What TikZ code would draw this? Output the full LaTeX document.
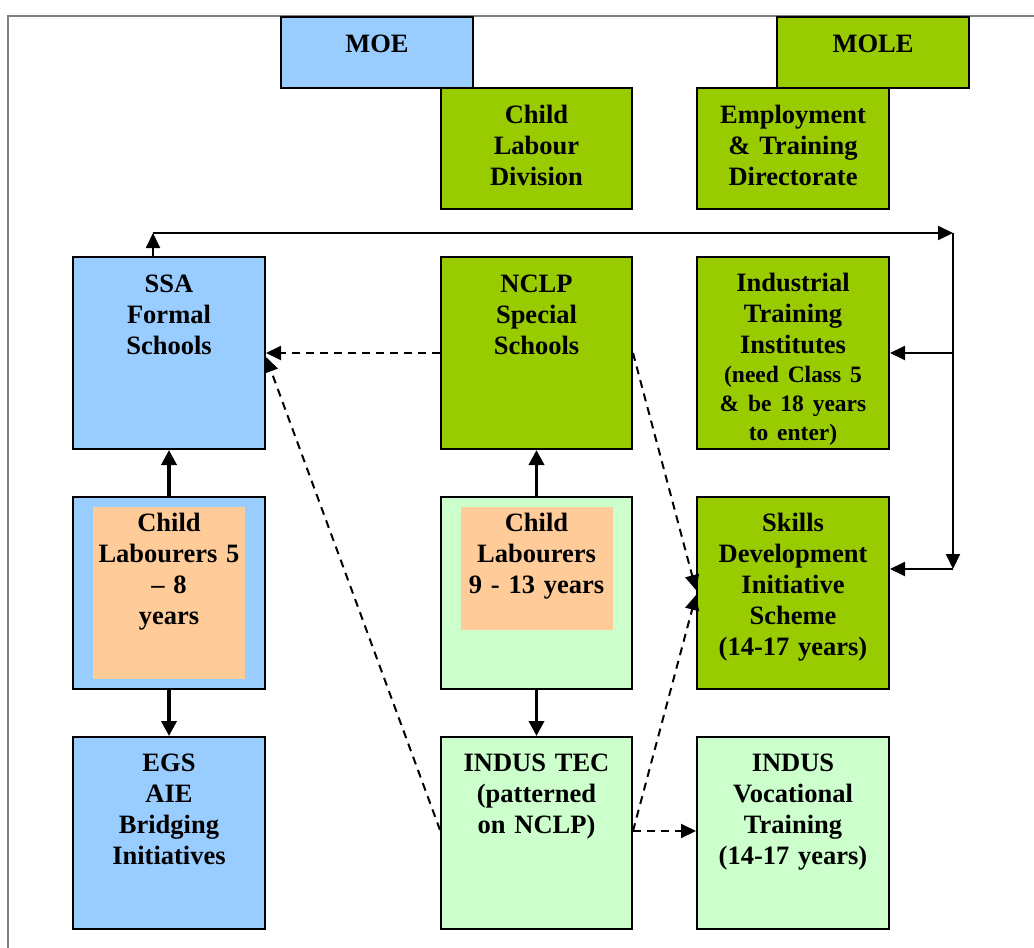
\documentclass[tikz,border=0pt]{standalone}
\usepackage{fontspec}
\setmainfont{Liberation Serif}[WordSpace=0.75]
\usetikzlibrary{arrows.meta,calc}
\definecolor{cblue}{HTML}{99CCFF}
\definecolor{cgreen}{HTML}{99CC00}
\definecolor{clight}{HTML}{CCFFCC}
\definecolor{corange}{HTML}{FFCC99}
\definecolor{cframe}{HTML}{808080}
\newcommand\flstrut{\rule{0pt}{24pt}}
\begin{document}
\begin{tikzpicture}[x=1pt,y=-1pt,
  boxbase/.style={rectangle, draw=black, line width=2pt, inner sep=0pt, minimum width=192pt},
  bluebox/.style={boxbase, fill=cblue},
  greenbox/.style={boxbase, fill=cgreen},
  lightbox/.style={boxbase, fill=clight},
  innerbox/.style={rectangle, fill=corange, inner sep=0pt, minimum width=152pt},
  tx/.style={anchor=north, inner sep=0pt, text width=190pt, align=center,
    font=\fontsize{26.5}{31}\selectfont\bfseries},
  thinarrow/.style={line width=2pt, -{Triangle[length=15pt,width=14pt]}},
  thickarrow/.style={line width=3.5pt, -{Triangle[length=15pt,width=15pt]}},
  dasharrow/.style={line width=2pt, dash pattern=on 8pt off 6pt, -{Triangle[length=15pt,width=14pt]}}
]
\useasboundingbox (0,0) rectangle (1034,948);
\draw[cframe, line width=1.5pt] (8,948) -- (8,16) -- (1034,16);

% boxes
\node[bluebox, minimum height=71pt] (moe) at (377,52.5) {};
\node[greenbox, minimum height=71pt] (mole) at (873,52.5) {};
\node[greenbox, minimum height=121pt, minimum width=191pt] (cld) at (536.5,148.5) {};
\node[greenbox, minimum height=121pt] (etd) at (793,148.5) {};
\node[bluebox, minimum height=192pt] (ssa) at (169,353) {};
\node[greenbox, minimum height=192pt, minimum width=191pt] (nclp) at (536.5,353) {};
\node[greenbox, minimum height=192pt] (iti) at (793,353) {};
\node[bluebox, minimum height=192pt] (cl58) at (169,593) {};
\node[innerbox, minimum height=172pt] (cl58in) at (169,593) {};
\node[lightbox, minimum height=192pt, minimum width=191pt] (cl913) at (536.5,593) {};
\node[innerbox, minimum height=123pt] (cl913in) at (537,568.5) {};
\node[greenbox, minimum height=192pt] (sdi) at (793,593) {};
\node[bluebox, minimum height=192pt] (egs) at (169,833) {};
\node[lightbox, minimum height=192pt, minimum width=191pt] (tec) at (536.5,833) {};
\node[lightbox, minimum height=192pt] (voc) at (793,833) {};

% texts
\node[tx] (tmoe) at ($(moe.north)+(0,12)$) {\flstrut MOE};
\node[tx] (tmole) at ($(mole.north)+(0,12)$) {\flstrut MOLE};
\node[tx] (tcld) at ($(cld.north)+(0,12)$) {\flstrut Child\\Labour\\Division};
\node[tx] (tetd) at ($(etd.north)+(0,12)$) {\flstrut Employment\\\& Training\\Directorate};
\node[tx] (tssa) at ($(ssa.north)+(0,12)$) {\flstrut SSA\\Formal\\Schools};
\node[tx] (tnclp) at ($(nclp.north)+(0,12)$) {\flstrut NCLP\\Special\\Schools};
\node[tx] (titi) at ($(iti.north)+(0,11)$) {\flstrut Industrial\\Training\\Institutes\par
  {\fontsize{23.5}{29}\selectfont (need Class 5\\\& be 18 years\\to enter)\par}};
\node[tx] (tcl58) at ($(cl58.north)+(0,11)$) {\flstrut Child\\Labourers 5\\\textendash{} 8\\years};
\node[tx] (tcl913) at ($(cl913.north)+(0,11)$) {\flstrut Child\\Labourers\\9 - 13 years};
\node[tx] (tsdi) at ($(sdi.north)+(0,11)$) {\flstrut Skills\\Development\\Initiative\\Scheme\\(14-17 years)};
\node[tx] (tegs) at ($(egs.north)+(0,11)$) {\flstrut EGS\\AIE\\Bridging\\Initiatives};
\node[tx] (ttec) at ($(tec.north)+(0,11)$) {\flstrut INDUS TEC\\(patterned\\on NCLP)};
\node[tx] (tvoc) at ($(voc.north)+(0,11)$) {\flstrut INDUS\\Vocational\\Training\\(14-17 years)};

% solid connector loop
\coordinate (c1) at (153,233);
\coordinate (c2) at (953,233);
\coordinate (c3) at (953,569);
\coordinate (c4) at (953,353);
\draw[thinarrow] (c1 |- ssa.north) -- (c1);
\draw[thinarrow] (c1) -- (c2);
\draw[thinarrow] (c2) -- (c3);
\draw[thinarrow] (c3) -- (c3 -| sdi.east);
\draw[thinarrow] (c4) -- (c4 -| iti.east);

% thick arrows
\draw[thickarrow] (cl58.north) -- (ssa.south);
\draw[thickarrow] (cl58.south) -- (egs.north);
\draw[thickarrow] (cl913.north) -- (nclp.south);
\draw[thickarrow] (cl913.south) -- (tec.north);

% dashed arrows
\draw[dasharrow] (nclp.west) -- (ssa.east);
\draw[dasharrow] ($(tec.west)+(0,-3)$) -- ($(ssa.east)+(0,4)$);
\draw[dasharrow] (nclp.east) -- ($(sdi.west)+(0,-3)$);
\draw[dasharrow] ($(tec.east)+(0,-2)$) -- ($(sdi.west)+(0,2)$);
\draw[dasharrow] ($(tec.east)+(0,-2)$) -- ($(voc.west)+(0,-2)$);
\end{tikzpicture}
\end{document}
